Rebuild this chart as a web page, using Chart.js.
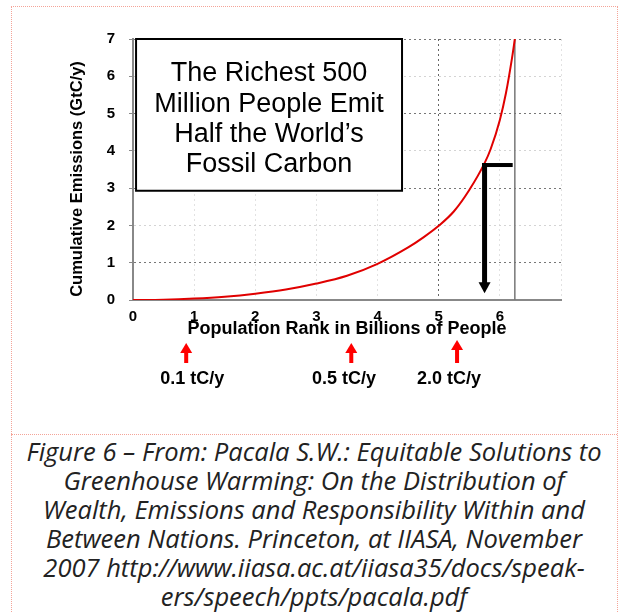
<!DOCTYPE html>
<html>
<head>
<meta charset="utf-8">
<script src="https://cdn.jsdelivr.net/npm/chart.js@4.4.1/dist/chart.umd.min.js"></script>
<style>
  body { margin: 0; background: #fff; width: 619px; height: 612px; overflow: hidden; position: relative; }
  #frame { position: absolute; left: 11px; top: 6px; width: 605px; height: 700px; border: 1px dotted #f4a498; }
  #sep { position: absolute; left: 11px; top: 434px; width: 606px; border-top: 1px dotted #f4a498; }
  #chartWrap { position: absolute; left: 0; top: 0; width: 619px; height: 428px; }
  #caption { position: absolute; left: 11px; top: 437px; width: 606px; text-align: center;
             font: italic 25.5px "Open Sans", sans-serif; line-height: 29px; color: #222; white-space: nowrap; }
</style>
</head>
<body>
<div id="frame"></div>
<div id="sep"></div>
<div id="chartWrap"><canvas id="grafik" width="619" height="428"></canvas></div>
<div id="caption">
Figure 6 – From: Pacala S.W.: Equitable Solutions to<br>
Greenhouse Warming: On the Distribution of<br>
Wealth, Emissions and Responsibility Within and<br>
Between Nations. Princeton, at IIASA, November<br>
2007 http://www.iiasa.ac.at/iiasa35/docs/speak-<br>
ers/speech/ppts/pacala.pdf
</div>
<script>
// population rank (billions) vs cumulative emissions (GtC/y)
const rank = [0, 0.5, 1, 1.5, 2, 2.5, 3, 3.5, 4, 4.5, 4.75, 5, 5.25, 5.5, 5.75, 5.85, 6, 6.1, 6.2, 6.245];
const cumulative = [0, 0.01, 0.04, 0.09, 0.17, 0.28, 0.44, 0.65, 0.97, 1.41, 1.68, 1.99, 2.38, 2.95, 3.67, 4.05, 4.83, 5.55, 6.5, 7.0];

const xTickMax = 6;
const boxLines = ['The Richest 500', 'Million People Emit', 'Half the World\u2019s', 'Fossil Carbon'];

// "richest 500 million" marker
const richestRank = 5.75;
const richestLevel = 3.62;
const richestEnd = 6.21;
const richestTip = 0.18;
const totalRank = 6.245;

// per-capita emission markers under the axis
const rateRank = [0.87, 3.57, 5.3];
const rateLabelRank = [0.97, 3.45, 5.17];
const rateLabels = ['0.1 tC/y', '0.5 tC/y', '2.0 tC/y'];

const FONT = '"Liberation Sans", Arial, sans-serif';
Chart.defaults.font.family = FONT;

function arrowUp(ctx, x, top, bottom) {
  ctx.fillStyle = '#ff0000';
  ctx.fillRect(x - 2, top + 9, 4, bottom - top - 9);
  ctx.beginPath();
  ctx.moveTo(x, top);
  ctx.lineTo(x + 6, top + 10);
  ctx.lineTo(x - 6, top + 10);
  ctx.closePath();
  ctx.fill();
}

const extras = {
  id: 'extras',
  beforeDatasetsDraw(chart) {
    const {ctx, scales: {x, y}} = chart;
    ctx.save();
    // text box
    const bx = x.getPixelForValue(0.05), by = y.getPixelForValue(7);
    const bw = x.getPixelForValue(4.4) - bx, bh = y.getPixelForValue(2.93) - by;
    ctx.fillStyle = '#fff';
    ctx.fillRect(bx, by, bw, bh);
    ctx.strokeStyle = '#000';
    ctx.lineWidth = 2;
    ctx.strokeRect(bx, by, bw, bh);
    ctx.fillStyle = '#000';
    ctx.font = '27px ' + FONT;
    ctx.textAlign = 'center';
    ctx.textBaseline = 'middle';
    boxLines.forEach((t, i) => ctx.fillText(t, bx + bw / 2, by + 35 + i * 30.3));
    // total population line
    const tx = x.getPixelForValue(totalRank);
    ctx.strokeStyle = '#777';
    ctx.lineWidth = 1.5;
    ctx.beginPath();
    ctx.moveTo(tx, y.getPixelForValue(0));
    ctx.lineTo(tx, y.getPixelForValue(7));
    ctx.stroke();
    ctx.restore();
  },
  afterDatasetsDraw(chart) {
    const {ctx, scales: {x, y}} = chart;
    ctx.save();
    // black arrow
    const ax = x.getPixelForValue(richestRank);
    const ay = y.getPixelForValue(richestLevel);
    const tip = y.getPixelForValue(richestTip);
    ctx.fillStyle = '#000';
    ctx.fillRect(ax - 2.5, ay - 2, x.getPixelForValue(richestEnd) - ax + 2.5, 4);
    ctx.fillRect(ax - 2.5, ay - 2, 5, tip - ay - 8);
    ctx.beginPath();
    ctx.moveTo(ax, tip);
    ctx.lineTo(ax + 6, tip - 11);
    ctx.lineTo(ax - 6, tip - 11);
    ctx.closePath();
    ctx.fill();
    // y title
    ctx.translate(77, 179);
    ctx.rotate(-Math.PI / 2);
    ctx.font = 'bold 16.5px ' + FONT;
    ctx.textAlign = 'center';
    ctx.textBaseline = 'middle';
    ctx.fillText('Cumulative Emissions (GtC/y)', 0, 0);
    ctx.restore();
    // red arrows + labels
    ctx.save();
    const base = y.getPixelForValue(0);
    rateRank.forEach((r, i) => {
      const top = i === 2 ? base + 40 : base + 43;
      arrowUp(ctx, x.getPixelForValue(r), top, base + 63);
    });
    ctx.fillStyle = '#000';
    ctx.font = 'bold 18px ' + FONT;
    ctx.textAlign = 'center';
    ctx.textBaseline = 'middle';
    rateLabels.forEach((t, i) => ctx.fillText(t, x.getPixelForValue(rateLabelRank[i]), base + 79));
    ctx.restore();
  }
};

new Chart(document.getElementById('grafik'), {
  type: 'line',
  data: {
    datasets: [{
      data: rank.map((r, i) => ({x: r, y: cumulative[i]})),
      borderColor: '#e00000',
      borderWidth: 2,
      pointRadius: 0,
      cubicInterpolationMode: 'monotone'
    }]
  },
  options: {
    responsive: false,
    animation: false,
    layout: { padding: { left: 0, right: 58, top: 39, bottom: 88 } },
    plugins: { legend: { display: false }, tooltip: { enabled: false } },
    scales: {
      x: {
        type: 'linear',
        min: 0, max: 7,
        afterFit(scale) { scale.height = 40; },
        border: { color: '#888', width: 2, dash: [2, 3] },
        grid: {
          drawTicks: false,
          color: c => c.tick && c.tick.value === 5 ? '#666' : '#e2e2e2',
        },
        ticks: {
          stepSize: 1, padding: 8, color: '#000',
          font: { size: 15, weight: 'bold' },
          callback: v => v <= xTickMax ? v : ''
        },
        title: {
          display: true, text: 'Population Rank in Billions of People', color: '#000',
          font: { size: 18, weight: 'bold' }, padding: 0
        }
      },
      y: {
        min: 0, max: 7,
        afterFit(scale) { scale.width = 133; },
        border: { color: '#888', width: 2, dash: [2, 3] },
        grid: {
          tickLength: 4,
          tickColor: '#888',
          color: c => c.tick && c.tick.value % 2 === 1 ? '#777' : '#d4d4d4',
        },
        ticks: { stepSize: 1, padding: 14, color: '#000', font: { size: 15, weight: 'bold' } }
      }
    }
  },
  plugins: [extras]
});
</script>
</body>
</html>
